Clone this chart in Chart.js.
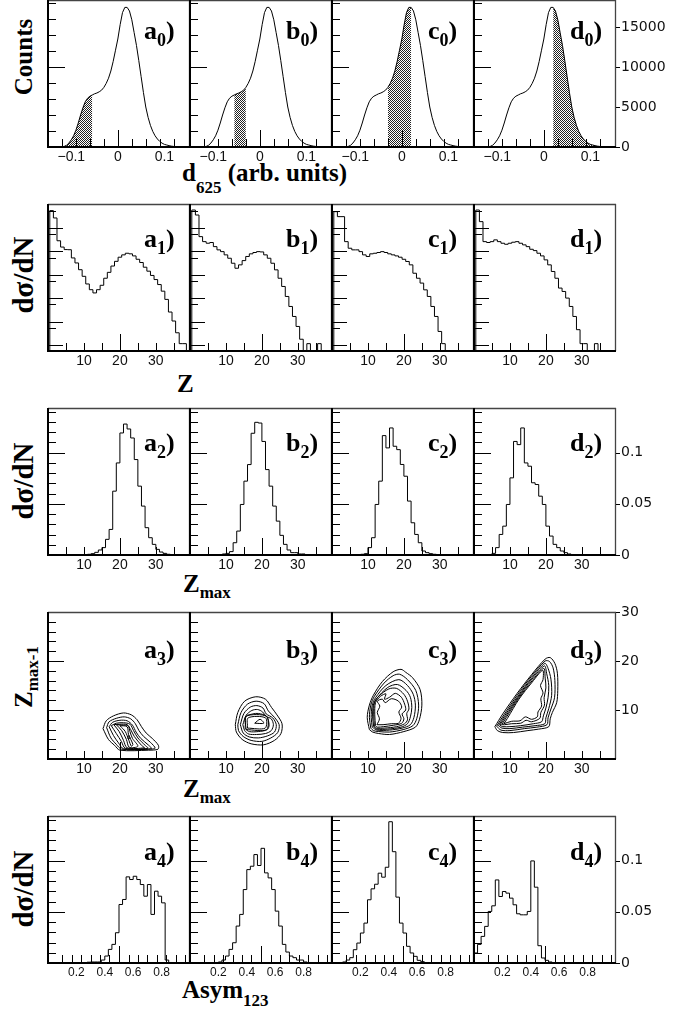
<!DOCTYPE html>
<html>
<head>
<meta charset="utf-8">
<script src="https://cdn.jsdelivr.net/npm/chart.js@4.4.1/dist/chart.umd.min.js"></script>
<style>
html,body{margin:0;padding:0;background:#fff;}
body{position:relative;width:674px;height:1014px;overflow:hidden;}
canvas{position:absolute;}
.t{position:absolute;font-family:"Liberation Serif","Times New Roman",serif;font-weight:bold;font-size:25px;line-height:25px;white-space:nowrap;color:#000;}
.r{transform:translate(-50%,-50%) rotate(-90deg);}
.big{font-size:29px;line-height:29px;}
.s{position:relative;font-size:17px;}
.pl{position:absolute;font-family:"Liberation Serif","Times New Roman",serif;font-weight:bold;font-size:26px;line-height:26px;white-space:nowrap;color:#000;}
.ps{position:relative;top:7px;font-size:18px;}
</style>
</head>
<body>
<div class="t r" style="left:23px;top:57px">Counts</div>
<div class="t" style="left:182px;top:160px">d<span class="s" style="top:12px">625</span> (arb. units)</div>
<div class="t r big" style="left:23px;top:275px">dσ/dN</div>
<div class="t" style="left:177px;top:371px">Z</div>
<div class="t r big" style="left:23px;top:481px">dσ/dN</div>
<div class="t" style="left:183px;top:571px">Z<span class="s" style="top:6px">max</span></div>
<div class="t r" style="left:25px;top:677px">Z<span class="s" style="top:6px">max-1</span></div>
<div class="t" style="left:183px;top:776px">Z<span class="s" style="top:6px">max</span></div>
<div class="t r big" style="left:23px;top:889px">dσ/dN</div>
<div class="t" style="left:182px;top:977px">Asym<span class="s" style="top:8px">123</span></div>
<script>
// ---------------- DATA ----------------
// Row 0: d625 distribution (counts sampled every 0.005 from -0.150)
const d625Start = -0.15, d625Step = 0.005;
const d625Counts = [0,0,0,0,0,10,30,80,220,500,900,1400,2100,3000,4000,4900,5650,6100,6350,6500,
  6650,6750,6900,7100,7450,7950,8600,9500,10700,12100,13500,15300,16800,17450,17450,17000,15900,14300,
  12700,10800,8800,6800,5000,3700,2700,1950,1400,1000,700,480,330,250,170,110,70,45,28,15,8,4,0,0];
const d625Cuts = [[-0.15,-0.055],[-0.055,-0.03],[-0.03,0.02],[0.02,0.155]];

// Row 1: dσ/dN vs Z (bins of width 1 centred on Z = 1,2,3...)
const zFirstEdge = 0.5;
const zA1 = [95.5,90.5,75.0,70.7,69.0,68.9,63.3,59.9,55.3,50.8,45.6,41.7,39.5,41.7,44.7,49.5,53.5,57.8,61.0,63.8,
  65.4,66.5,66.1,64.7,62.4,60.2,57.0,54.3,51.4,48.6,45.2,40.7,35.1,26.5,20.4,12.4,5.0,5.0];
const zB1 = [95.9,92.5,77.8,74.4,73.3,73.8,71.0,68.8,67.6,65.4,63.1,59.7,56.3,58.6,61.5,64.3,66.1,67.0,67.6,67.4,
  65.4,63.1,59.7,55.2,49.5,43.9,37.1,30.3,23.5,16.7,8.0,0,5.0,0,0,5.0];
const zC1 = [94.8,91.4,91.4,74.4,69.9,68.8,68.8,67.6,65.4,64.3,66.1,66.5,67.0,67.6,67.0,66.1,65.4,64.7,63.8,62.4,
  60.9,58.6,52.9,49.5,46.2,41.6,37.1,30.3,23.5,13.3,5.0];
const zD1 = [95.9,88.0,74.4,73.8,74.4,75.6,74.4,73.3,72.6,73.3,74.0,74.4,73.3,72.2,71.0,69.2,68.3,66.5,64.7,62.0,
  58.6,54.1,49.5,42.8,40.5,36.0,30.3,23.5,14.5,5.0,5.0,0,0,5.0,0];

// Row 2: dσ/dN vs Zmax (bins [k,k+1], first k given)
const zmaxAFirst = 10;
const zmaxA = [0.0003,0.0007,0.0013,0.0026,0.0049,0.0072,0.0153,0.025,0.0624,0.090,0.1193,0.128,0.1232,0.1144,
  0.0933,0.0673,0.0478,0.0267,0.0169,0.0104,0.0055,0.0029,0.0016,0.0007,0.0003];
const zmaxBFirst = 8;
const zmaxB = [0.0005,0.001,0.0016,0.0033,0.012,0.0234,0.0494,0.0722,0.0884,0.119,0.1297,0.129,0.111,0.0835,
  0.0673,0.0478,0.0331,0.0192,0.0104,0.0049,0.0023,0.0023,0.001,0.001,0.0003];
const zmaxCFirst = 7;
const zmaxC = [0.0003,0.0007,0.0013,0.0072,0.0169,0.0494,0.0722,0.1167,0.1047,0.1242,0.1063,0.1030,0.0885,0.0770,
  0.0527,0.0315,0.0201,0.0120,0.0039,0.0023,0.0013,0.0007,0.0003];
const zmaxDFirst = 4;
const zmaxD = [0.0005,0.0016,0.0072,0.0201,0.0282,0.0494,0.0754,0.111,0.1079,0.1242,0.0900,0.0868,0.0706,0.0689,
  0.0575,0.0494,0.0282,0.0185,0.0104,0.0072,0.0039,0.0023,0.001,0.0005];

// Row 3: contour lines of Zmax-1 vs Zmax, each a closed list of [Zmax, Zmax-1]
const contoursA = [
  [[15.3,6.2],[16.2,7.8],[18.2,8.8],[21,9.4],[23.2,9.0],[24.8,8.0],[26,6.6],[27.3,5.3],[29,4.2],[30.7,2.8],[30.6,2.0],[28,1.8],[20,1.8],[18.5,2.8],[16.8,4.0],[15.3,6.2]],
  [[16.3,6.4],[17,7.6],[19,8.3],[21.2,8.6],[23,8.2],[24.3,7.2],[25.3,5.8],[26.6,4.6],[28.5,3.4],[29.8,2.2],[28,2.0],[20.5,2.0],[19,3.0],[17.5,4.3],[16.3,6.4]],
  [[17,6.6],[18,7.5],[20,7.9],[22,7.8],[23.5,6.9],[24.5,5.5],[25.8,4.2],[28,2.8],[28.8,2.1],[21,2.1],[19.6,3.3],[18.2,4.8],[17,6.6]],
  [[17.6,6.8],[19,7.3],[21,7.4],[22.8,7.1],[23.8,5.8],[25,4.3],[27,2.8],[27.8,2.2],[21.5,2.2],[20.4,3.6],[19,5.2],[17.6,6.8]],
  [[18.3,7.0],[20,7.1],[22,7.0],[23,6.0],[24,4.6],[26,2.8],[26.8,2.3],[22,2.3],[21,3.8],[19.8,5.6],[18.3,7.0]],
  [[19,7.0],[21,6.9],[22.3,6.8],[22.8,5.6],[23.5,4.2],[25,2.6],[22.6,2.4],[21.8,4.0],[20.5,5.8],[19,7.0]],
  [[20,6.8],[22,6.6],[22.4,5.0],[23.6,3.0],[23.2,2.6],[22.5,3.8],[21.5,5.6],[20,6.8]],
  [[22.2,4.2],[22.8,4.2],[22.5,4.8],[22.2,4.2]]
];
const contoursB = [
  [[12.6,7.0],[13.3,9.5],[15.2,11.8],[18.3,12.7],[21,12.2],[22.7,10.5],[24.2,9.0],[25.6,7.2],[25.3,5.2],[23.5,3.8],[20.5,2.9],[17,3.1],[14.5,4.0],[12.9,5.5],[12.6,7.0]],
  [[13.3,7.0],[14.2,9.5],[16,11.2],[18.4,11.8],[20.6,11.3],[21.8,9.8],[23.5,8.5],[24.8,7.0],[24.4,5.4],[22.5,4.3],[20,3.6],[17,3.8],[14.8,4.6],[13.5,5.8],[13.3,7.0]],
  [[14,7.0],[15,9.3],[16.8,10.6],[18.6,10.9],[20.3,10.4],[21.2,9.2],[23,8.4],[24,7.0],[23.5,5.5],[21.5,4.7],[19,4.3],[16.5,4.5],[14.8,5.3],[14,7.0]],
  [[14.7,7.0],[15.6,8.9],[17.2,9.9],[18.8,10.1],[20.2,9.6],[21.2,8.7],[22.6,8.2],[23.2,7.0],[22.6,5.8],[21,5.2],[18.5,5.0],[16.3,5.1],[15.2,5.8],[14.7,7.0]],
  [[15.4,7.0],[15.6,8.7],[17.5,9.2],[19,9.3],[21.3,8.7],[22,7.0],[21.5,6.0],[19,5.6],[16.5,5.6],[15.4,6.2],[15.4,7.0]],
  [[15.6,6.0],[15.6,8.7],[21.3,8.7],[21.3,6.0],[15.6,6.0]],
  [[16,6.3],[16.2,8.4],[21,8.4],[20.9,6.3],[16,6.3]],
  [[18,7.3],[19.5,8.1],[20.5,7.3],[18,7.3]]
];
const contoursC = [
  [[10.4,6.0],[9.8,8.5],[10.4,11.0],[11.5,13.0],[14.0,15.8],[17,17.8],[19.2,18.3],[20.5,17.7],[22.4,16.6],[24.5,14.2],[25.0,11.0],[24.3,8.0],[23.2,6.5],[20,5.6],[16,5.0],[13,5.2],[11.3,5.5],[10.4,6.0]],
  [[10.8,6.3],[10.4,8.5],[10.8,11],[11.8,12.8],[14.5,15.5],[17,17.0],[18.8,17.3],[21,16.2],[23.3,14.0],[24.1,11],[23.6,8.3],[22.5,6.8],[19.8,6.0],[16,5.5],[13,5.6],[11.5,5.8],[10.8,6.3]],
  [[11.2,6.5],[10.9,8.5],[11.2,11],[12.1,12.5],[15,15.0],[18.6,16.2],[21,15.0],[22.6,13.2],[23.2,11],[22.8,8.5],[21.8,7.0],[19.5,6.3],[16,5.9],[12.5,5.9],[11.2,6.5]],
  [[11.6,6.6],[11.3,8.6],[11.5,11],[12.4,12.3],[15.5,14.6],[18.2,15.2],[20.6,14.0],[21.8,12.6],[22.2,10.5],[21.8,8.6],[21,7.2],[19.2,6.5],[15.5,6.1],[12.5,6.1],[11.6,6.6]],
  [[11.8,6.7],[11.6,9],[11.8,11.5],[13,12.8],[15.8,14.3],[18,14.4],[20,13.2],[21,11.8],[21.4,10.2],[20.8,9.3],[21,8.0],[20.2,7.2],[18,6.6],[14.5,6.3],[12.4,6.3],[11.8,6.7]],
  [[12.1,6.8],[11.9,9],[12.1,11.5],[13.5,12.8],[15,13.3],[14.6,12.2],[16,12.6],[17.6,13.4],[19.3,12.6],[20.2,11.2],[20.5,10],[19.5,9.2],[20,8.2],[19.4,7.3],[17.2,6.9],[14.3,6.6],[12.6,6.5],[12.1,6.8]],
  [[12.5,7.0],[13.2,8.2],[12.6,9.5],[13.3,10.8],[12.6,11.8],[14,12.2],[14.8,11.5],[16.5,12.3],[18.5,11.8],[19.4,10.6],[18.6,9.6],[19.2,8.3],[18.5,7.3],[16.5,7.2],[14.2,7.0],[12.5,7.0]]
];
const contoursD = [
  [[5.8,6.6],[8,9.2],[12,13.4],[16,17.2],[19.8,20.4],[21.2,20.7],[22.5,19.5],[23.2,17.5],[23.3,14],[23,11.5],[21.8,9.5],[21.2,8.2],[20.8,6.6],[18,6.1],[15,5.8],[11,5.4],[8,5.4],[6.5,5.8],[5.8,6.6]],
  [[6.3,6.7],[8.3,9.0],[12,13],[16,16.9],[19.8,20.0],[21,19.9],[22,18.6],[22.5,16],[22.4,12.5],[21.3,10],[20.6,8.4],[20.3,7.0],[17.5,6.5],[14,6.2],[10,5.8],[7.5,5.9],[6.3,6.7]],
  [[6.8,6.8],[8.6,8.9],[12.2,12.8],[16.1,16.6],[19.7,19.5],[20.6,18.5],[21.4,16.3],[21.6,13],[20.8,10.3],[20.0,8.4],[19.7,7.2],[17,6.8],[13.5,6.5],[10,6.2],[7.8,6.3],[6.8,6.8]],
  [[7.2,6.9],[8.8,8.7],[12.3,12.6],[16.1,16.3],[19.6,19.0],[20.2,17.5],[20.8,15],[20.6,12.5],[20.0,10.4],[19.3,8.8],[18.8,7.6],[16.5,7.2],[13,6.8],[10,6.6],[8,6.6],[7.2,6.9]],
  [[7.7,7.0],[9.0,8.5],[12.4,12.4],[16.2,16.0],[19.4,18.5],[19.8,16.5],[20.0,14.5],[19.5,12.5],[19.6,11],[18.6,9.5],[18.3,8.3],[16,7.6],[14.5,7.9],[13,7.3],[10.5,7.2],[8.5,7.0],[7.7,7.0]],
  [[8.3,7.2],[9.3,8.3],[12.5,12.2],[16.2,15.7],[19.1,18.1],[19.2,16.2],[18.5,15.0],[19.2,13.5],[18.6,12.3],[18.8,10.8],[17.8,9.6],[17.6,8.6],[16,8.1],[14.3,8.6],[12.8,7.8],[10.5,7.7],[8.3,7.2]]
];

// Row 4: dσ/dN vs Asym123 (bins of width 0.025, first left edge given)
const asymBin = 0.025;
const asymAFirst = 0.25;
const asymA = [0.0005,0.0008,0.001,0.001,0.001,0.0029,0.0068,0.0133,0.0182,0.0296,0.0572,0.0621,0.0842,0.0816,
  0.0848,0.0816,0.0767,0.0653,0.0767,0.0475,0.0702,0.0653,0.0588,0.0029,0.0005];
const asymBFirst = 0.15;
const asymB = [0.0003,0.0005,0.001,0.0029,0.0068,0.0133,0.0198,0.0361,0.0475,0.0718,0.0913,0.0946,0.106,0.0953,
  0.1121,0.0881,0.0832,0.0718,0.0507,0.0361,0.0182,0.0107,0.0068,0.0052,0.0029,0.0029,0.001,0.0005];
const asymCFirst = 0.0;
const asymC = [0.0003,0.0003,0.0005,0.001,0.0029,0.0052,0.013,0.0195,0.0293,0.039,0.0618,0.0725,0.0770,0.0878,
  0.0839,0.0936,0.1381,0.1088,0.0644,0.039,0.0293,0.0163,0.0098,0.0065,0.0026,0.0013,0.0005];
const asymDFirst = 0.0;
const asymD = [0.0098,0.0182,0.0260,0.0358,0.0504,0.0559,0.0812,0.0650,0.0699,0.0683,0.0634,0.0569,0.0481,0.0471,
  0.0471,0.0504,0.0998,0.0741,0.0169,0.0049,0.0026,0.001,0.0005,0.0003];

// Ticks and tick labels
const d625Ticks = [-0.12,-0.09,-0.06,-0.03,0,0.03,0.06,0.09,0.12];
const d625LongTicks = [0];
const d625Labels = [-0.1,0,0.1];
const countTicks = [2000,4000,6000,8000,10000,12000,14000,16000,18000];
const countLongTicks = [10000];
const countRightLabels = [0,5000,10000,15000];
const zTicks = [5,10,15,20,25,30,35];
const zLongTicks = [20];
const zLabels = [10,20,30];
const dndzTicks = [4.1,15.9,20,31.8,35.9,47.7,51.8,63.6,67.7,79.5,83.6,95.4];
const dndzLongTicks = [4.1,20,35.9,51.8,67.7,83.6];
const probTicks = [0.01,0.02,0.03,0.04,0.05,0.06,0.07,0.08,0.09,0.1,0.11,0.12,0.13,0.14];
const probLongTicks = [0.05,0.1];
const probRightLabels = [0,0.05,0.1];
const zm1Ticks = [2,4,6,8,10,12,14,16,18,20,22,24,26,28];
const zm1LongTicks = [10,20];
const zm1RightLabels = [10,20,30];
const asymTicks = [0.1,0.167,0.233,0.3,0.367,0.433,0.5,0.567,0.633,0.7,0.767,0.833,0.9,0.967];
const asymLongTicks = [0.5];
const asymLabels = [0.2,0.4,0.6,0.8];

// ---------------- LAYOUT ----------------
const PW = 142, PH = 147;
const colLeft = [48, 190, 332, 474];
const rowTop = [0, 204, 408, 612, 816];
const labelDrop = [40, 44, 44, 47, 45];
const letters = ['a','b','c','d'];

const fmt = v => String(v).replace('-', '\u2212');

function histPts(firstEdge, width, vals) {
  const p = [{x:firstEdge, y:0}];
  vals.forEach((v,i) => p.push({x:firstEdge + i*width, y:v}));
  p.push({x:firstEdge + vals.length*width, y:0});
  return p;
}
function histSet(firstEdge, width, vals) {
  return {data: histPts(firstEdge, width, vals), borderColor:'#000', borderWidth:1, stepped:'before',
          fill:false, pointRadius:0, order:1};
}
function contourSets(list) {
  return list.map(c => ({data: c.map(([x,y]) => ({x, y})), borderColor:'#000', borderWidth:1,
          tension:0.3, fill:false, pointRadius:0}));
}

// shading pattern
const pc = document.createElement('canvas'); pc.width = 2; pc.height = 2;
const pctx = pc.getContext('2d');
pctx.fillStyle = '#fff'; pctx.fillRect(0,0,2,2);
pctx.fillStyle = '#222'; pctx.fillRect(0,0,1,1); pctx.fillRect(1,1,1,1);
const shadePattern = pctx.createPattern(pc, 'repeat');

const d625Pts = d625Counts.map((v,i) => ({x: d625Start + i*d625Step, y: v}));
function d625Sets(col) {
  const [lo, hi] = d625Cuts[col];
  const part = d625Pts.filter(p => p.x >= lo - 1e-9 && p.x <= hi + 1e-9);
  return [
    {data: part, borderWidth:0, borderColor:'rgba(0,0,0,0)', backgroundColor: shadePattern, fill:'origin', pointRadius:0, tension:0, order:2},
    {data: d625Pts, borderColor:'#000', borderWidth:1, fill:false, pointRadius:0, tension:0, order:1}
  ];
}

const rowCfg = [
  {xMin:-0.15, xMax:0.155, yMin:0, yMax:18375, xTicks:d625Ticks, xLong:d625LongTicks, xLabels:d625Labels,
   xFont:'14px "Liberation Sans"', yTicks:countTicks, yLong:countLongTicks, yLongLen:17, right:countRightLabels},
  {xMin:0, xMax:39.5, yMin:0, yMax:100, xTicks:zTicks, xLong:zLongTicks, xLabels:zLabels,
   xFont:'14px "Liberation Sans"', yTicks:dndzTicks, yLong:dndzLongTicks, yLongLen:15, right:null},
  {xMin:0, xMax:39.5, yMin:0, yMax:0.1437, xTicks:zTicks, xLong:zLongTicks, xLabels:zLabels,
   xFont:'14px "Liberation Sans"', yTicks:probTicks, yLong:probLongTicks, yLongLen:17, right:probRightLabels},
  {xMin:0, xMax:39.5, yMin:0, yMax:30, xTicks:zTicks, xLong:zLongTicks, xLabels:zLabels,
   xFont:'14px "Liberation Sans"', yTicks:zm1Ticks, yLong:zm1LongTicks, yLongLen:16, right:zm1RightLabels},
  {xMin:0, xMax:1, yMin:0, yMax:0.1437, xTicks:asymTicks, xLong:asymLongTicks, xLabels:asymLabels,
   xFont:'12px "Liberation Sans"', yTicks:probTicks, yLong:probLongTicks, yLongLen:17, right:probRightLabels}
];

const panelSets = [
  [0,1,2,3].map(c => d625Sets(c)),
  [[histSet(zFirstEdge,1,zA1)],[histSet(zFirstEdge,1,zB1)],[histSet(zFirstEdge,1,zC1)],[histSet(zFirstEdge,1,zD1)]],
  [[histSet(zmaxAFirst,1,zmaxA)],[histSet(zmaxBFirst,1,zmaxB)],[histSet(zmaxCFirst,1,zmaxC)],[histSet(zmaxDFirst,1,zmaxD)]],
  [contourSets(contoursA),contourSets(contoursB),contourSets(contoursC),contourSets(contoursD)],
  [[histSet(asymAFirst,asymBin,asymA)],[histSet(asymBFirst,asymBin,asymB)],[histSet(asymCFirst,asymBin,asymC)],[histSet(asymDFirst,asymBin,asymD)]]
];

function axesPlugin(cfg, isRight) {
  return {
    id: 'rootAxes',
    afterDraw(chart) {
      const {ctx, chartArea:a, scales:{x, y}} = chart;
      ctx.save();
      ctx.lineWidth = 1; ctx.strokeStyle = '#000';
      ctx.beginPath();
      cfg.xTicks.forEach(v => {
        const px = Math.round(x.getPixelForValue(v)) + 0.5;
        const len = cfg.xLong.includes(v) ? 17 : 8;
        ctx.moveTo(px, a.bottom); ctx.lineTo(px, a.bottom - len);
      });
      cfg.yTicks.forEach(v => {
        const py = Math.round(y.getPixelForValue(v)) + 0.5;
        const len = cfg.yLong.includes(v) ? cfg.yLongLen : 8;
        ctx.moveTo(a.left, py); ctx.lineTo(a.left + len, py);
      });
      ctx.stroke();
      // frame
      ctx.strokeStyle = '#444'; ctx.lineWidth = 1.3;
      ctx.beginPath();
      ctx.moveTo(a.left, a.top + 0.5); ctx.lineTo(a.right, a.top + 0.5);
      ctx.moveTo(a.right - 0.5, a.top); ctx.lineTo(a.right - 0.5, a.bottom);
      ctx.stroke();
      ctx.strokeStyle = '#000'; ctx.lineWidth = 2;
      ctx.beginPath();
      ctx.moveTo(a.left, a.top); ctx.lineTo(a.left, a.bottom); ctx.lineTo(a.right, a.bottom);
      ctx.stroke();
      // x labels
      ctx.fillStyle = '#111'; ctx.font = cfg.xFont; ctx.textAlign = 'center'; ctx.textBaseline = 'middle';
      cfg.xLabels.forEach(v => ctx.fillText(fmt(v), x.getPixelForValue(v), a.bottom + 10));
      // right axis
      if (isRight && cfg.right) {
        ctx.lineWidth = 1; ctx.strokeStyle = '#000';
        ctx.beginPath();
        cfg.right.forEach(v => {
          const py = Math.round(y.getPixelForValue(v)) + 0.5;
          ctx.moveTo(a.right, py); ctx.lineTo(a.right + 4, py);
        });
        ctx.stroke();
        ctx.font = '14px "DejaVu Sans"'; ctx.textAlign = 'left';
        cfg.right.forEach(v => ctx.fillText(fmt(v), a.right + 5, y.getPixelForValue(v)));
      }
      ctx.restore();
    }
  };
}

for (let r = 0; r < 5; r++) {
  const cfg = rowCfg[r];
  for (let c = 0; c < 4; c++) {
    const padL = 8, padT = 8, padB = 24, padR = (c === 3 ? 60 : 8);
    const cv = document.createElement('canvas');
    cv.width = PW + padL + padR; cv.height = PH + padT + padB;
    cv.style.left = (colLeft[c] - padL) + 'px';
    cv.style.top = (rowTop[r] - padT) + 'px';
    cv.style.width = cv.width + 'px'; cv.style.height = cv.height + 'px';
    document.body.appendChild(cv);
    new Chart(cv, {
      type: 'line',
      data: {datasets: panelSets[r][c]},
      options: {
        responsive: false, maintainAspectRatio: false, animation: false, devicePixelRatio: 1, events: [],
        layout: {padding: {left: padL, right: padR, top: padT, bottom: padB}},
        scales: {
          x: {type: 'linear', display: false, min: cfg.xMin, max: cfg.xMax},
          y: {type: 'linear', display: false, min: cfg.yMin, max: cfg.yMax}
        },
        plugins: {legend: {display: false}, tooltip: {enabled: false}}
      },
      plugins: [axesPlugin(cfg, c === 3)]
    });
    // panel label
    const lab = document.createElement('div');
    lab.className = 'pl';
    lab.style.left = (colLeft[c] + 96) + 'px';
    lab.style.top = (rowTop[r] + labelDrop[r] - 22) + 'px';
    lab.innerHTML = letters[c] + '<span class="ps">' + r + '</span>)';
    document.body.appendChild(lab);
  }
}
</script>
</body>
</html>
